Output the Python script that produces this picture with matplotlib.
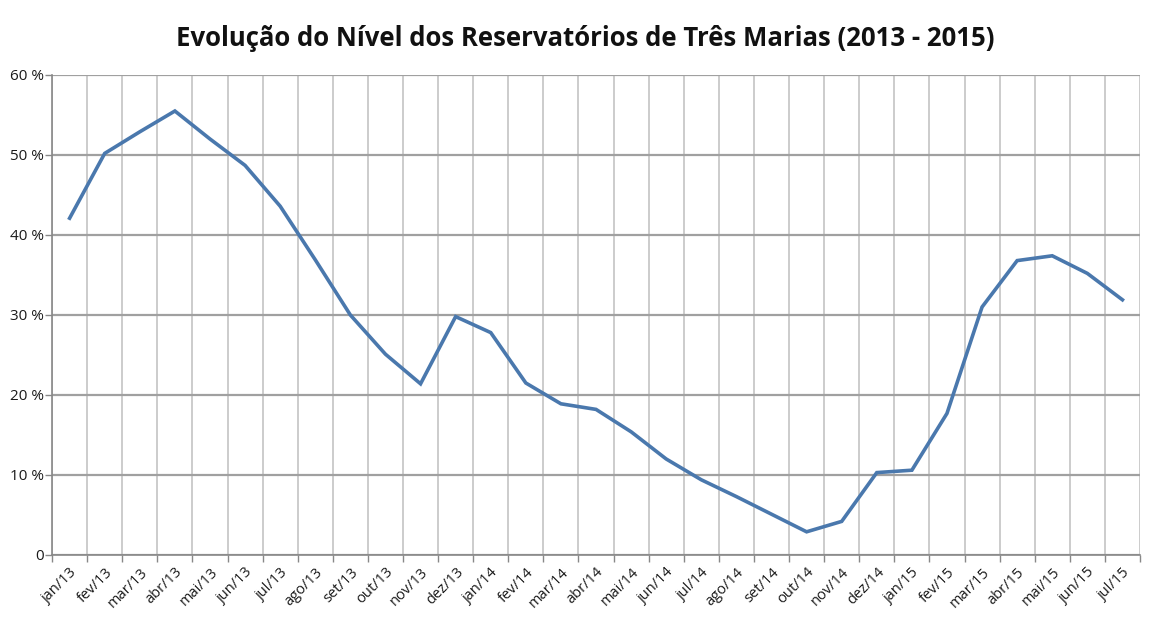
import numpy as np
import matplotlib
matplotlib.use("Agg")
import matplotlib.pyplot as plt

# month labels (jan/13 .. jul/15)
months = ["jan/13", "fev/13", "mar/13", "abr/13", "mai/13", "jun/13", "jul/13",
          "ago/13", "set/13", "out/13", "nov/13", "dez/13",
          "jan/14", "fev/14", "mar/14", "abr/14", "mai/14", "jun/14", "jul/14",
          "ago/14", "set/14", "out/14", "nov/14", "dez/14",
          "jan/15", "fev/15", "mar/15", "abr/15", "mai/15", "jun/15", "jul/15"]

# reservoir level in %
nivel = [42.1, 50.2, 52.9, 55.5, 52.0, 48.7, 43.6, 36.9, 30.0, 25.1, 21.4, 29.8,
         27.8, 21.5, 18.9, 18.2, 15.4, 12.0, 9.4, 7.3, 5.1, 2.9, 4.2, 10.3,
         10.6, 17.7, 31.0, 36.8, 37.4, 35.2, 31.9]

yticks = [0, 10, 20, 30, 40, 50, 60]
ylabels = ["0", "10 %", "20 %", "30 %", "40 %", "50 %", "60 %"]

plt.rcParams['font.family'] = ['Open Sans', 'DejaVu Sans']

fig = plt.figure(figsize=(11.57, 6.25), dpi=100)
ax = fig.add_axes([0.045, 0.112, 0.9403, 0.768])

x = np.arange(len(months))
ax.plot(x, nivel, color='#4a78ad', lw=2.6, solid_joinstyle='miter', zorder=3)

ax.set_xlim(-0.5, len(months) - 0.5)
ax.set_ylim(0, 60)

# category labels in the middle, grid/ticks on the boundaries
ax.set_xticks(x)
ax.set_xticklabels(months, rotation=45, ha='right', rotation_mode='anchor',
                   fontsize=10.5, color='#1a1a1a')
ax.tick_params(axis='x', which='major', length=0, pad=7)
ax.set_xticks(np.arange(-0.5, len(months)), minor=True)
ax.tick_params(axis='x', which='minor', length=5, color='#888888', width=1)
ax.grid(True, axis='x', which='minor', color='#c8c8c8', lw=1.3)

ax.set_yticks(yticks)
ax.set_yticklabels(ylabels, fontsize=11, color='#1a1a1a')
ax.tick_params(axis='y', length=5, color='#888888', width=1, pad=1)
ax.grid(True, axis='y', which='major', color='#a0a0a0', lw=1.6)

for s in ['top', 'right']:
    ax.spines[s].set_visible(False)
for s in ['left', 'bottom']:
    ax.spines[s].set_color('#888888')
    ax.spines[s].set_linewidth(1.2)
ax.set_axisbelow(True)

fig.text(0.506, 0.938, "Evolução do Nível dos Reservatórios de Três Marias (2013 - 2015)",
         ha='center', va='center', fontsize=18.5, fontweight='bold', color='#111111')

fig.savefig("out.png", dpi=100, facecolor='white')
